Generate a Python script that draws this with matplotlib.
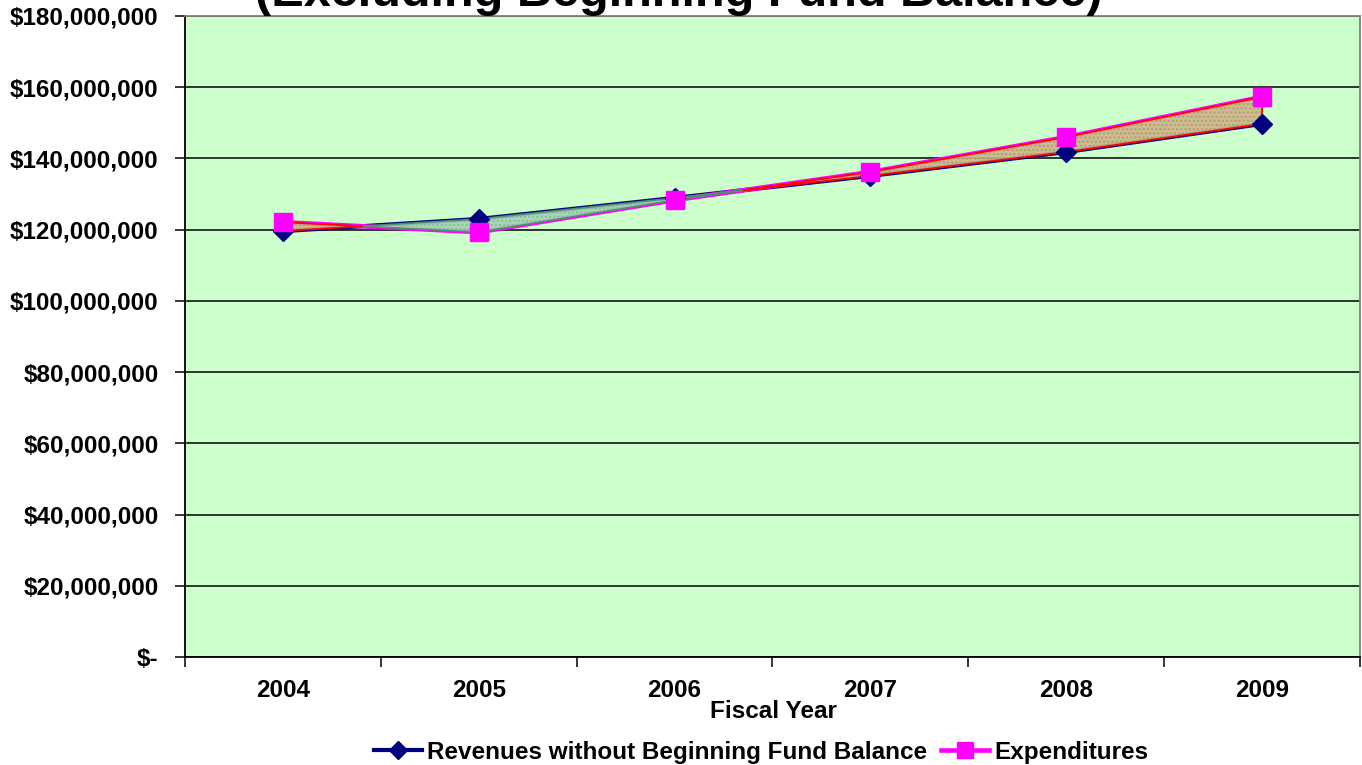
import matplotlib
matplotlib.use("Agg")
import matplotlib.pyplot as plt
from matplotlib.ticker import FuncFormatter, FixedLocator
from matplotlib.lines import Line2D
import numpy as np

# Fiscal-year data (dollars)
years = ["2004", "2005", "2006", "2007", "2008", "2009"]
revenues = [119_600_000, 123_000_000, 128_900_000, 135_100_000, 141_800_000, 149_700_000]
expenditures = [122_100_000, 119_300_000, 128_300_000, 136_200_000, 146_000_000, 157_300_000]

rev_label = "Revenues without Beginning Fund Balance"
exp_label = "Expenditures"
title = "(Excluding Beginning Fund Balance)"
x_title = "Fiscal Year"

plt.rcParams["font.family"] = ["Liberation Sans", "DejaVu Sans"]
plt.rcParams["font.weight"] = "bold"
plt.rcParams["hatch.linewidth"] = 1.0

FS = 17.5
W, H = 1362, 765
fig = plt.figure(figsize=(W / 100, H / 100), dpi=100)
ax = fig.add_axes([185 / W, 1 - 657 / H, (1360 - 185) / W, (657 - 16) / H])
ax.set_facecolor("#CCFFCC")

x = np.arange(len(years))
rev = np.array(revenues, dtype=float)
exp_ = np.array(expenditures, dtype=float)

ax.plot(x, rev, color="#000080", linewidth=3, zorder=3)
ax.plot(x, exp_, color="#FF00FF", linewidth=3.3, zorder=3)
ax.plot(x, rev, linestyle="none", marker="D", markersize=10,
        color="#000080", zorder=5)
ax.plot(x, exp_, linestyle="none", marker="s", markersize=12.5,
        color="#FF00FF", zorder=6)

# Surplus / deficit bands between the two series
xf = np.linspace(x[0], x[-1], 1001)
rf = np.interp(xf, x, rev)
ef = np.interp(xf, x, exp_)
surplus = rf >= ef
deficit = ef >= rf
ax.fill_between(xf, rf, ef, where=surplus, interpolate=True,
                facecolor="#A2D4B4", edgecolor="#84B898", linewidth=0,
                hatch="....", alpha=0.9, zorder=4)
ax.fill_between(xf, rf, ef, where=surplus, interpolate=True,
                facecolor="none", edgecolor="#4F8F6F", linewidth=1.2, zorder=4)
ax.fill_between(xf, rf, ef, where=deficit, interpolate=True,
                facecolor="#CCB68A", edgecolor="#B09870", linewidth=0,
                hatch="....", alpha=0.9, zorder=4)
ax.fill_between(xf, rf, ef, where=deficit, interpolate=True,
                facecolor="none", edgecolor="#FF0000", linewidth=1.3, zorder=4)

ax.set_xlim(-0.5, len(years) - 0.5)
ax.set_ylim(0, 180_000_000)
ax.set_yticks(np.arange(0, 180_000_001, 20_000_000))
ax.yaxis.set_major_formatter(FuncFormatter(
    lambda v, p: "$-" if v == 0 else f"${v:,.0f}"))
ax.grid(axis="y", color="black", linewidth=1.1, zorder=1)
ax.set_axisbelow(True)

ax.set_xticks(x)
ax.set_xticklabels(years)
ax.xaxis.set_minor_locator(FixedLocator(np.arange(-0.5, len(years), 1.0)))
ax.tick_params(axis="x", which="major", length=0, pad=16, labelsize=FS)
ax.tick_params(axis="x", which="minor", length=7, width=1.1, direction="out")
ax.tick_params(axis="y", length=7, width=1.1, pad=12, labelsize=FS)
for lbl in ax.get_xticklabels() + ax.get_yticklabels():
    lbl.set_fontweight("bold")

for side in ("left", "bottom"):
    ax.spines[side].set_color("black")
    ax.spines[side].set_linewidth(1.3)
for side in ("top", "right"):
    ax.spines[side].set_color("#808080")
    ax.spines[side].set_linewidth(1.3)

fig.text(773 / W, 1 - 711 / H, x_title, ha="center", va="center",
         fontsize=FS, fontweight="bold")
fig.text(679 / W, 1 - 6 / H, title, ha="center", va="baseline",
         fontsize=35, fontweight="bold")

handles = [
    Line2D([], [], color="#000080", linewidth=3, marker="D", markersize=9),
    Line2D([], [], color="#FF00FF", linewidth=3.3, marker="s", markersize=12),
]
fig.legend(handles, [rev_label, exp_label], loc="center",
           bbox_to_anchor=(761 / W, 1 - 752 / H), ncol=2, frameon=False,
           prop={"size": FS, "weight": "bold"}, handlelength=2.0,
           handletextpad=0.2, columnspacing=0.55, borderpad=0)

fig.savefig("out.png", dpi=100)
